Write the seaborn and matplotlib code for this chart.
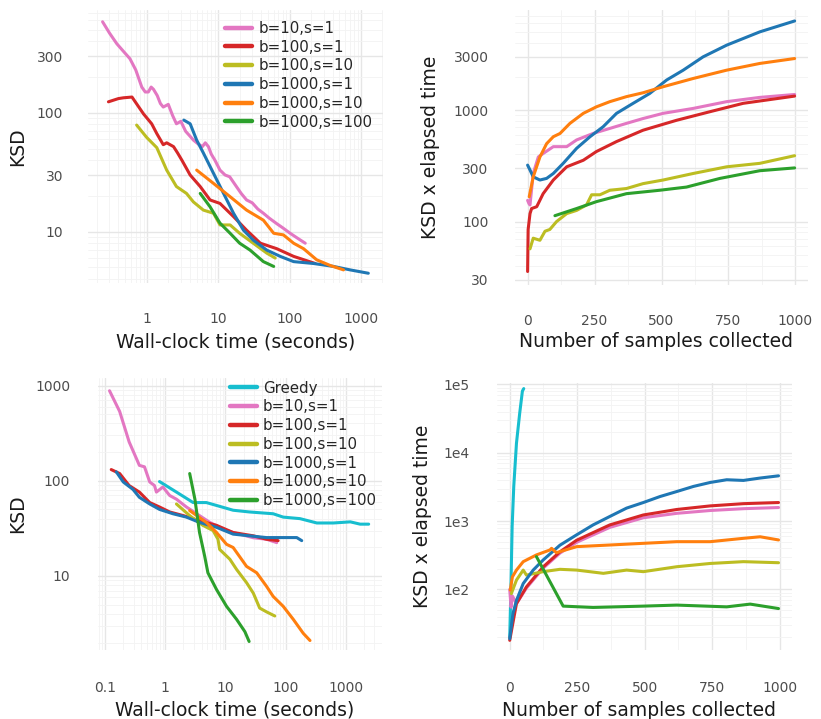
import numpy as np
import pandas as pd
import seaborn as sns
import matplotlib
matplotlib.use("Agg")
import matplotlib.pyplot as plt
from matplotlib.ticker import FixedLocator, FuncFormatter, LogLocator, MultipleLocator, NullFormatter

settings = ["b=10,s=1", "b=100,s=1", "b=100,s=10", "b=1000,s=1", "b=1000,s=10", "b=1000,s=100"]
colors = ["#e377c2", "#d62728", "#bcbd22", "#1f77b4", "#ff7f0e", "#2ca02c"]
greedy_label = "Greedy"
greedy_color = "#17becf"

# ---- top left: KSD vs wall-clock time
tl_t_b10s1 = [0.24, 0.3, 0.38, 0.47, 0.58, 0.7, 0.85, 0.95, 1.05, 1.15, 1.24, 1.4, 1.55, 1.7, 2.0, 2.3, 2.6, 3.0,
              3.5, 4.0, 4.5, 5.2, 6.0, 6.6, 7.3, 8.0, 9.0, 10.6, 12.5, 14.5, 18, 21, 25, 30, 36, 43, 52, 66, 80, 102, 130, 166]
tl_k_b10s1 = [585, 470, 382, 330, 286, 230, 165, 150, 150, 165, 158, 140, 120, 112, 118, 95, 81, 85,
              70, 64, 59, 55, 52, 56, 52, 45, 40, 33, 30, 29, 24, 21, 18.5, 17.5, 15.5, 14.3, 13, 11.7, 10.8, 9.7, 8.8, 8.0]
tl_t_b100s1 = [0.29, 0.4, 0.47, 0.62, 0.75, 0.9, 1.17, 1.38, 1.7, 1.9, 2.37, 2.7, 3.1, 4.05, 5.6, 7.7, 10.6, 16.4, 25, 39, 66, 114, 229]
tl_k_b100s1 = [124, 132, 134, 136, 115, 98, 81, 67, 54, 56, 52, 46, 40, 30, 24, 18.5, 17.3, 13.4, 10.3, 8.0, 7.2, 6.2, 5.4]
tl_t_b100s10 = [0.72, 1.0, 1.38, 1.9, 2.6, 3.6, 4.5, 6.2, 8.6, 10.6, 14.7, 20, 31, 48, 63]
tl_k_b100s10 = [79, 62, 51, 33, 24, 21, 17.8, 15.2, 14.3, 11.4, 11.4, 9.7, 8.0, 6.6, 6.0]
tl_t_b1000s1 = [3.3, 4.05, 5.0, 6.2, 8.6, 11.9, 16.4, 22.6, 31, 48, 74, 114, 217, 415, 707, 1270]
tl_k_b1000s1 = [87, 81, 59, 46, 31, 21, 14.3, 10.3, 8.5, 7.0, 6.2, 5.6, 5.4, 5.1, 4.77, 4.47]
tl_t_b1000s10 = [5.0, 8.6, 14.7, 25, 43, 60, 82, 114, 157, 240, 370, 571]
tl_k_b1000s10 = [33, 25.5, 19.7, 15.2, 12.5, 9.7, 9.4, 8.0, 7.2, 5.8, 5.2, 4.77]
tl_t_b1000s100 = [5.6, 7.7, 10.6, 14.7, 20, 28, 43, 60]
tl_k_b1000s100 = [21, 16.2, 11.8, 9.7, 8.0, 7.0, 5.6, 5.1]

# ---- top right: KSD x elapsed time vs samples
tr_n_b10s1 = [0, 5, 9, 21, 40, 58, 96, 146, 183, 245, 307, 369, 431, 506, 618, 743, 867, 997]
tr_v_b10s1 = [155, 145, 141, 270, 380, 408, 470, 470, 540, 618, 685, 760, 840, 935, 1035, 1190, 1300, 1380]
tr_n_b100s1 = [0, 2, 9, 15, 34, 58, 96, 146, 208, 257, 332, 431, 556, 680, 805, 997]
tr_v_b100s1 = [35.7, 85, 118, 131, 136, 178, 236, 310, 355, 425, 522, 660, 810, 966, 1150, 1335]
tr_n_b100s10 = [9, 21, 46, 65, 83, 108, 146, 183, 220, 239, 270, 307, 369, 431, 506, 618, 743, 867, 997]
tr_v_b100s10 = [57, 71, 68, 82, 85, 100, 118, 126, 141, 174, 174, 191, 198, 219, 236, 270, 310, 333, 390]
tr_n_b1000s1 = [0, 9, 21, 46, 71, 96, 133, 183, 233, 282, 332, 394, 456, 519, 581, 655, 743, 867, 997]
tr_v_b1000s1 = [321, 290, 252, 236, 244, 270, 333, 454, 577, 709, 935, 1150, 1410, 1860, 2280, 3000, 3820, 5030, 6300]
tr_n_b1000s10 = [6, 21, 46, 71, 96, 121, 158, 208, 257, 307, 369, 431, 506, 618, 743, 867, 997]
tr_v_b1000s10 = [167, 252, 380, 500, 577, 617, 760, 935, 1070, 1190, 1320, 1430, 1620, 1920, 2280, 2620, 2900]
tr_n_b1000s100 = [102, 183, 257, 369, 493, 593, 718, 867, 997]
tr_v_b1000s100 = [113, 131, 151, 178, 191, 204, 244, 286, 303]

# ---- bottom left: KSD vs wall-clock time (with greedy)
bl_t_greedy = [0.8, 1.53, 2.9, 4.8, 7.1, 13.4, 25, 62, 91, 173, 330, 620, 1190, 1730, 2400]
bl_k_greedy = [98, 76, 59, 59, 55, 49, 47, 45, 41.5, 40, 36, 36, 37, 35, 35]
bl_t_b10s1 = [0.118, 0.174, 0.25, 0.37, 0.45, 0.55, 0.66, 0.71, 0.91, 1.18, 1.53, 2.24, 3.7, 5.5, 9.1, 13.4, 29, 48, 71]
bl_k_b10s1 = [881, 534, 256, 145, 140, 97, 89, 76, 86, 70, 64, 53, 43, 36.5, 31, 28.6, 25.2, 24.3, 22.4]
bl_t_b100s1 = [0.126, 0.174, 0.25, 0.37, 0.55, 0.8, 1.18, 2.0, 3.7, 7.1, 13.4, 29, 48, 75]
bl_k_b100s1 = [131, 119, 89, 76, 59, 53, 47, 43, 38, 34, 28.6, 26.4, 24.3, 23.5]
bl_t_b100s10 = [1.53, 2.54, 4.2, 6.2, 7.5, 8.0, 11.8, 15.3, 22.4, 29, 37, 48, 66]
bl_k_b100s10 = [57, 43, 34, 30, 24.3, 19, 15, 11.7, 8.5, 6.6, 4.6, 4.2, 3.8]
bl_t_b1000s1 = [0.153, 0.2, 0.29, 0.37, 0.55, 0.8, 1.34, 2.24, 3.7, 7.1, 13.4, 25, 48, 91, 153, 185]
bl_k_b1000s1 = [124, 97, 81, 67, 57, 50, 45, 41.5, 36.5, 32.4, 27.5, 26.4, 25.3, 25.3, 25.3, 23.5]
bl_t_b1000s10 = [2.54, 4.8, 7.1, 10.4, 13.4, 22.4, 33, 48, 62, 91, 134, 196, 254]
bl_k_b1000s10 = [48.6, 36.5, 28.6, 21.5, 19.9, 12.6, 10.8, 7.8, 6.1, 4.8, 3.5, 2.5, 2.1]
bl_t_b1000s100 = [2.54, 3.1, 3.7, 4.5, 5.1, 7.1, 10.4, 15.3, 21, 24.7]
bl_k_b1000s100 = [119, 64, 28.6, 16.2, 10.8, 7.2, 4.8, 3.5, 2.6, 2.05]

# ---- bottom right: KSD x elapsed time vs samples (with greedy)
br_n_greedy = [0, 4, 9, 15, 25, 37, 47, 52]
br_v_greedy = [20, 88, 840, 3240, 13800, 38000, 80000, 87000]
br_n_b10s1 = [0, 5, 10, 25, 62, 124, 186, 248, 371, 495, 619, 743, 866, 996]
br_v_b10s1 = [100, 55, 80, 62, 105, 205, 340, 490, 810, 1120, 1300, 1430, 1520, 1580]
br_n_b100s1 = [0, 25, 62, 124, 186, 248, 371, 495, 619, 743, 866, 996]
br_v_b100s1 = [18, 62, 109, 214, 355, 525, 880, 1230, 1480, 1670, 1800, 1870]
br_n_b100s10 = [6, 25, 50, 62, 124, 186, 248, 347, 433, 495, 619, 743, 866, 996]
br_v_b100s10 = [87, 137, 192, 162, 182, 197, 192, 172, 192, 182, 215, 240, 255, 246]
br_n_b1000s1 = [0, 12, 25, 50, 87, 124, 186, 248, 309, 371, 433, 495, 557, 619, 681, 743, 804, 866, 928, 996]
br_v_b1000s1 = [19, 44.5, 69, 122, 192, 270, 444, 630, 880, 1170, 1550, 1870, 2290, 2710, 3220, 3680, 4030, 3940, 4270, 4600]
br_n_b1000s10 = [2, 10, 25, 50, 99, 149, 155, 173, 248, 371, 495, 619, 743, 866, 928, 996]
br_v_b1000s10 = [98, 153, 192, 255, 320, 378, 400, 345, 423, 447, 473, 500, 500, 560, 590, 530]
br_n_b1000s100 = [99, 198, 309, 495, 619, 804, 891, 996]
br_v_b1000s100 = [302, 57, 54.5, 57, 59, 55.6, 61, 52.5]


def long_frame(xs, ys, names, xcol, ycol):
    parts = [pd.DataFrame({xcol: x, ycol: y, "setting": n}) for x, y, n in zip(xs, ys, names)]
    return pd.concat(parts, ignore_index=True)


def style_axis(ax, xpad, ypad):
    for s in ax.spines.values():
        s.set_visible(False)
    ax.set_axisbelow(True)
    ax.grid(which="major", color="#e6e6e6", linewidth=1.0)
    ax.grid(which="minor", color="#f3f3f3", linewidth=0.6)
    ax.tick_params(which="both", length=0, labelsize=10, labelcolor="#4d4d4d")
    ax.tick_params(axis="x", pad=xpad)
    ax.tick_params(axis="y", pad=ypad)


def fmt_plain(v, pos):
    return "%g" % v


sns.set_style("white")
plt.rcParams["font.family"] = ["DejaVu Sans"]

fig = plt.figure(figsize=(8.21, 7.19), dpi=100)
ax_tl = fig.add_axes([0.1072, 0.6064, 0.3593, 0.3797])
ax_tr = fig.add_axes([0.6273, 0.6036, 0.3569, 0.3825])
ax_bl = fig.add_axes([0.1194, 0.0960, 0.3459, 0.3783])
ax_br = fig.add_axes([0.6054, 0.0960, 0.3593, 0.3713])

pal = dict(zip(settings, colors))
pal_g = dict(pal, **{greedy_label: greedy_color})
order_g = [greedy_label] + settings

df_tl = long_frame([tl_t_b10s1, tl_t_b100s1, tl_t_b100s10, tl_t_b1000s1, tl_t_b1000s10, tl_t_b1000s100],
                   [tl_k_b10s1, tl_k_b100s1, tl_k_b100s10, tl_k_b1000s1, tl_k_b1000s10, tl_k_b1000s100],
                   settings, "time", "ksd")
df_tr = long_frame([tr_n_b10s1, tr_n_b100s1, tr_n_b100s10, tr_n_b1000s1, tr_n_b1000s10, tr_n_b1000s100],
                   [tr_v_b10s1, tr_v_b100s1, tr_v_b100s10, tr_v_b1000s1, tr_v_b1000s10, tr_v_b1000s100],
                   settings, "n", "val")
df_bl = long_frame([bl_t_greedy, bl_t_b10s1, bl_t_b100s1, bl_t_b100s10, bl_t_b1000s1, bl_t_b1000s10, bl_t_b1000s100],
                   [bl_k_greedy, bl_k_b10s1, bl_k_b100s1, bl_k_b100s10, bl_k_b1000s1, bl_k_b1000s10, bl_k_b1000s100],
                   order_g, "time", "ksd")
df_br = long_frame([br_n_greedy, br_n_b10s1, br_n_b100s1, br_n_b100s10, br_n_b1000s1, br_n_b1000s10, br_n_b1000s100],
                   [br_v_greedy, br_v_b10s1, br_v_b100s1, br_v_b100s10, br_v_b1000s1, br_v_b1000s10, br_v_b1000s100],
                   order_g, "n", "val")

lw = 2.2
sns.lineplot(data=df_tl, x="time", y="ksd", hue="setting", hue_order=settings, palette=pal,
             estimator=None, linewidth=lw, ax=ax_tl)
sns.lineplot(data=df_tr, x="n", y="val", hue="setting", hue_order=settings, palette=pal,
             estimator=None, linewidth=lw, ax=ax_tr, legend=False)
sns.lineplot(data=df_bl, x="time", y="ksd", hue="setting", hue_order=order_g, palette=pal_g,
             estimator=None, linewidth=lw, ax=ax_bl)
sns.lineplot(data=df_br, x="n", y="val", hue="setting", hue_order=order_g, palette=pal_g,
             estimator=None, linewidth=lw, ax=ax_br, legend=False)

# top left
ax_tl.set_xscale("log")
ax_tl.set_yscale("log")
ax_tl.set_xlim(0.15, 2040)
ax_tl.set_ylim(3.7, 735)
ax_tl.xaxis.set_major_locator(FixedLocator([1, 10, 100, 1000]))
ax_tl.yaxis.set_major_locator(FixedLocator([10, 30, 100, 300]))
# top right
ax_tr.set_yscale("log")
ax_tr.set_xlim(-47, 1047)
ax_tr.set_ylim(27, 7900)
ax_tr.xaxis.set_major_locator(MultipleLocator(250))
ax_tr.xaxis.set_minor_locator(MultipleLocator(125))
ax_tr.yaxis.set_major_locator(FixedLocator([30, 100, 300, 1000, 3000]))
# bottom left
ax_bl.set_xscale("log")
ax_bl.set_yscale("log")
ax_bl.set_xlim(0.076, 4000)
ax_bl.set_ylim(1.67, 1200)
ax_bl.xaxis.set_major_locator(FixedLocator([0.1, 1, 10, 100, 1000]))
ax_bl.yaxis.set_major_locator(FixedLocator([10, 100, 1000]))
# bottom right
ax_br.set_yscale("log")
ax_br.set_xlim(-47, 1046)
ax_br.set_ylim(13, 105000)
ax_br.xaxis.set_major_locator(MultipleLocator(250))
ax_br.xaxis.set_minor_locator(MultipleLocator(125))
ax_br.yaxis.set_major_locator(FixedLocator([1e2, 1e3, 1e4, 1e5]))
ax_br.yaxis.set_major_formatter(FuncFormatter(lambda v, p: "1e%d" % round(np.log10(v))))

for ax in (ax_tl, ax_tr, ax_bl, ax_br):
    ax.xaxis.set_minor_formatter(NullFormatter())
    ax.yaxis.set_minor_formatter(NullFormatter())
for ax in (ax_tl, ax_bl):
    ax.xaxis.set_major_formatter(FuncFormatter(fmt_plain))
    ax.yaxis.set_major_formatter(FuncFormatter(fmt_plain))
ax_tr.yaxis.set_major_formatter(FuncFormatter(fmt_plain))

style_axis(ax_tl, 21, 18)
style_axis(ax_tr, 21, 19)
style_axis(ax_bl, 22, 20)
style_axis(ax_br, 22, 20)

title_kw = dict(fontsize=13.5, color="#1a1a1a")
ax_tl.set_xlabel("Wall-clock time (seconds)", va="center", **title_kw)
ax_tl.set_ylabel("KSD", va="center", **title_kw)
ax_tl.xaxis.set_label_coords(0.5, -0.216)
ax_tl.yaxis.set_label_coords(-0.237, 0.5)
ax_tr.set_xlabel("Number of samples collected", va="center", **title_kw)
ax_tr.set_ylabel("KSD x elapsed time", va="center", **title_kw)
ax_tr.xaxis.set_label_coords(0.48, -0.207)
ax_tr.yaxis.set_label_coords(-0.287, 0.5)
ax_bl.set_xlabel("Wall-clock time (seconds)", va="center", **title_kw)
ax_bl.set_ylabel("KSD", va="center", **title_kw)
ax_bl.xaxis.set_label_coords(0.48, -0.22)
ax_bl.yaxis.set_label_coords(-0.282, 0.5)
ax_br.set_xlabel("Number of samples collected", va="center", **title_kw)
ax_br.set_ylabel("KSD x elapsed time", va="center", **title_kw)
ax_br.xaxis.set_label_coords(0.48, -0.225)
ax_br.yaxis.set_label_coords(-0.251, 0.5)

for ax, anchor in ((ax_tl, (0.465, 0.96)), (ax_bl, (0.465, 0.99))):
    old = ax.get_legend()
    handles = old.legend_handles
    texts = [t.get_text() for t in old.get_texts()]
    for h in handles:
        h.set_linewidth(3.2)
    ax.legend(handles, texts, loc="upper left", bbox_to_anchor=anchor, frameon=False,
              fontsize=10.8, handlelength=1.8, handletextpad=0.4, labelspacing=0.25,
              borderpad=0, borderaxespad=0)

fig.savefig("out.png", dpi=100)
